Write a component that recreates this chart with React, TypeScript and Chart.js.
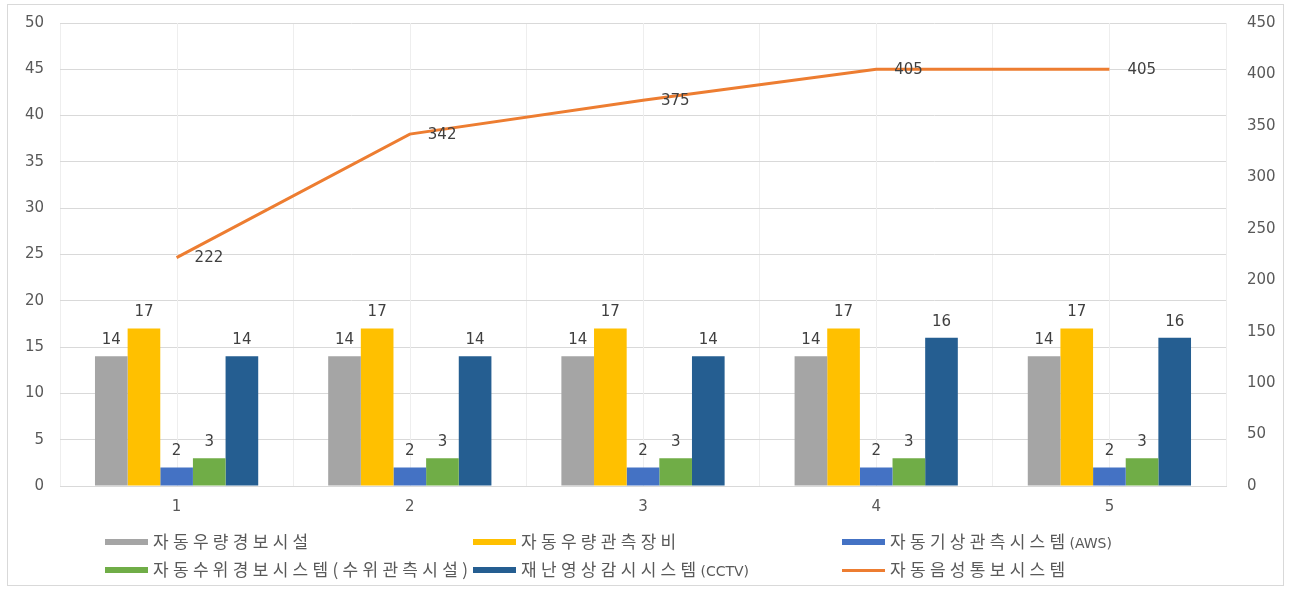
import React, { useEffect, useRef } from "react";
import { Chart, registerables } from "chart.js";

Chart.register(...registerables);

const categories = ["1", "2", "3", "4", "5"];
const rainAlarm = [14, 14, 14, 14, 14];
const rainGauge = [17, 17, 17, 17, 17];
const awsSystem = [2, 2, 2, 2, 2];
const waterLevel = [3, 3, 3, 3, 3];
const cctvSystem = [14, 14, 14, 16, 16];
const voiceAlarm = [222, 342, 375, 405, 405];

const seriesNames = [
  "자동우량경보시설",
  "자동우량관측장비",
  "자동기상관측시스템(AWS)",
  "자동수위경보시스템(수위관측시설)",
  "재난영상감시시스템(CCTV)",
  "자동음성통보시스템",
];
const seriesColors = ["#A5A5A5", "#FFC000", "#4472C4", "#70AD47", "#255E91", "#ED7D31"];

const leftMax = 50;
const leftStep = 5;
const rightMax = 450;
const rightStep = 50;

const FONT = "'DejaVu Sans', 'Noto Sans CJK KR', sans-serif";

const halfGridPlugin = {
  id: "halfGrid",
  beforeDatasetsDraw(chart: any) {
    const { ctx, chartArea, scales } = chart;
    const x = scales.x;
    ctx.save();
    ctx.strokeStyle = "#EEEEEE";
    ctx.lineWidth = 1;
    for (let i = 0; i < categories.length; i++) {
      const px = Math.round(x.getPixelForValue(i)) + 0.5;
      ctx.beginPath();
      ctx.moveTo(px, chartArea.top);
      ctx.lineTo(px, chartArea.bottom);
      ctx.stroke();
    }
    ctx.restore();
  },
};

const labelPlugin = {
  id: "valueLabels",
  afterDatasetsDraw(chart: any) {
    const { ctx } = chart;
    ctx.save();
    ctx.font = `15px ${FONT}`;
    ctx.fillStyle = "#404040";
    chart.data.datasets.forEach((ds: any, di: number) => {
      const meta = chart.getDatasetMeta(di);
      meta.data.forEach((el: any, i: number) => {
        const v = ds.data[i];
        if (ds.type === "line") {
          ctx.textAlign = "left";
          ctx.textBaseline = "middle";
          ctx.fillText(String(v), el.x + 18, el.y + 1);
        } else {
          ctx.textAlign = "center";
          ctx.textBaseline = "middle";
          ctx.fillText(String(v), el.x, el.y - 16);
        }
      });
    });
    ctx.restore();
  },
};

function splitName(name: string) {
  const parts: { text: string; latin: boolean }[] = [];
  const re = /(\([A-Z]+\))/g;
  let last = 0;
  let m: RegExpExecArray | null;
  while ((m = re.exec(name)) !== null) {
    if (m.index > last) parts.push({ text: name.slice(last, m.index), latin: false });
    parts.push({ text: m[1], latin: true });
    last = m.index + m[1].length;
  }
  if (last < name.length) parts.push({ text: name.slice(last), latin: false });
  return parts;
}

export default function App() {
  const canvasRef = useRef<HTMLCanvasElement | null>(null);

  useEffect(() => {
    if (!canvasRef.current) return;
    const barData = [rainAlarm, rainGauge, awsSystem, waterLevel, cctvSystem];
    const tickFont = { size: 15, family: FONT };
    const chart = new Chart(canvasRef.current, {
      type: "bar",
      data: {
        labels: categories,
        datasets: [
          ...barData.map((d, i) => ({
            type: "bar" as const,
            label: seriesNames[i],
            data: d,
            backgroundColor: seriesColors[i],
            yAxisID: "y",
            barPercentage: 1,
            categoryPercentage: 0.7,
            order: 1,
          })),
          {
            type: "line" as const,
            label: seriesNames[5],
            data: voiceAlarm,
            borderColor: seriesColors[5],
            backgroundColor: seriesColors[5],
            borderWidth: 3,
            pointRadius: 0,
            tension: 0,
            yAxisID: "y1",
            order: 0,
          },
        ],
      },
      options: {
        responsive: true,
        maintainAspectRatio: false,
        animation: false,
        layout: { padding: { top: 23, left: 0, right: 0, bottom: 0 } },
        plugins: {
          legend: { display: false },
          tooltip: { enabled: false },
        },
        scales: {
          x: {
            offset: true,
            grid: { offset: true, color: "#EEEEEE", drawTicks: false },
            border: { color: "#D9D9D9" },
            ticks: { color: "#595959", font: tickFont, padding: 12 },
            afterFit(scale: any) {
              scale.height = 103;
            },
          },
          y: {
            position: "left",
            min: 0,
            max: leftMax,
            ticks: { stepSize: leftStep, color: "#595959", font: tickFont, padding: 16 },
            grid: { color: "#D9D9D9", drawTicks: false },
            border: { display: false },
            afterFit(scale: any) {
              scale.width = 60;
              scale.paddingTop = 0;
              scale.paddingBottom = 0;
            },
          },
          y1: {
            position: "right",
            min: 0,
            max: rightMax,
            ticks: { stepSize: rightStep, color: "#595959", font: tickFont, padding: 21 },
            grid: { display: false, drawTicks: false },
            border: { display: false },
            afterFit(scale: any) {
              scale.width = 66;
              scale.paddingTop = 0;
              scale.paddingBottom = 0;
            },
          },
        },
      },
      plugins: [halfGridPlugin, labelPlugin],
    } as any);
    return () => chart.destroy();
  }, []);

  const legendCols = [105, 473, 842];
  const legendRows = [542, 570];

  return (
    <div style={{ position: "fixed", left: 0, top: 0, width: 1292, height: 589, background: "#FFFFFF" }}>
      <div
        style={{
          position: "absolute",
          left: 7,
          top: 4,
          width: 1277,
          height: 582,
          border: "1px solid #D9D9D9",
          boxSizing: "border-box",
        }}
      />
      <div style={{ position: "absolute", left: 0, top: 0, width: 1292, height: 589 }}>
        <canvas ref={canvasRef} />
      </div>
      {seriesNames.map((name, i) => {
        const col = i % 3;
        const row = Math.floor(i / 3);
        const isLine = i === 5;
        return (
          <div
            key={name}
            style={{
              position: "absolute",
              left: legendCols[col],
              top: legendRows[row] - 11,
              height: 22,
              display: "flex",
              alignItems: "center",
              whiteSpace: "nowrap",
            }}
          >
            <span
              style={{
                display: "inline-block",
                width: 43,
                height: isLine ? 3 : 6,
                background: seriesColors[i],
                marginRight: 5,
              }}
            />
            <span style={{ color: "#595959", lineHeight: "22px" }}>
              {splitName(name).map((p, k) => (
                <span
                  key={k}
                  style={
                    p.latin
                      ? { fontFamily: "'DejaVu Sans', sans-serif", fontSize: 14, letterSpacing: "0px" }
                      : { fontFamily: "'Noto Sans CJK KR', sans-serif", fontSize: 17, letterSpacing: "4.3px" }
                  }
                >
                  {p.text}
                </span>
              ))}
            </span>
          </div>
        );
      })}
    </div>
  );
}
